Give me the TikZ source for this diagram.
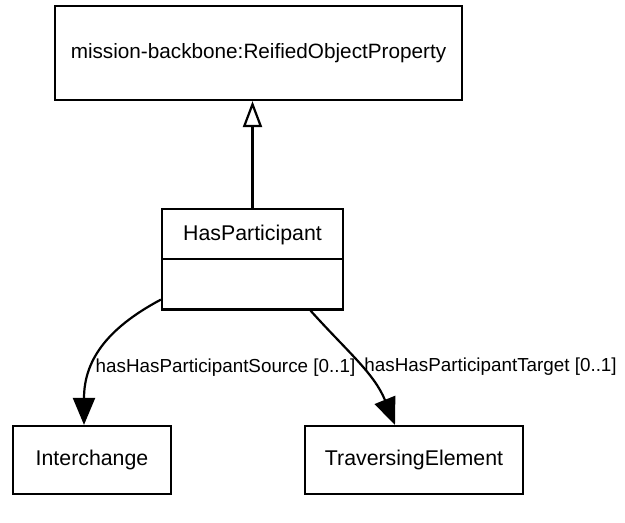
\documentclass[tikz,border=0pt]{standalone}
\usepackage{fontspec}
\setmainfont{Liberation Sans}
\usetikzlibrary{arrows.meta,shapes.multipart}

\begin{document}
\begin{tikzpicture}[x=0.5bp,y=-0.5bp,
  classbox/.style={draw, line width=1.1bp, rectangle, inner sep=0pt,
                   font=\fontsize{10.7}{13}\selectfont},
  assoc/.style={line width=1.1bp, -{Triangle[length=13.5bp,width=11bp]}},
  generalization/.style={line width=1.1bp, -{Triangle[open,length=13bp,width=9.5bp]}},
  rolelabel/.style={font=\fontsize{9.45}{11}\selectfont, inner sep=1bp, anchor=west}]
\useasboundingbox (0,0) rectangle (625,523);
\node[classbox, minimum width=203.5bp, minimum height=47bp,
      font=\fontsize{10.4}{13}\selectfont] (rop) at (258.5,53)
  {mission-backbone:ReifiedObjectProperty};
\node[classbox, rectangle split, rectangle split parts=2, minimum width=90.5bp,
      anchor=north] (hp) at (252.5,208)
  {\rule[-9bp]{0pt}{24bp}HasParticipant\nodepart{two}\rule{0pt}{24bp}};
\node[classbox, minimum width=79bp, minimum height=34bp] (ic) at (92,460) {Interchange};
\node[classbox, minimum width=109bp, minimum height=34bp] (te) at (414,460) {TraversingElement};
\draw[generalization] (hp.north) -- (hp.north |- rop.south);
\draw[assoc] ([yshift=5.5bp]hp.south west) to[out=208,in=90,looseness=1.1]
  node[rolelabel,pos=0.645] {hasHasParticipantSource [0..1]} ([xshift=-4bp]ic.north);
\draw[assoc] ([xshift=29bp]hp.south) to[out=-48,in=112]
  node[rolelabel,pos=0.53] {hasHasParticipantTarget [0..1]} ([xshift=-9.5bp]te.north);
\end{tikzpicture}
\end{document}
